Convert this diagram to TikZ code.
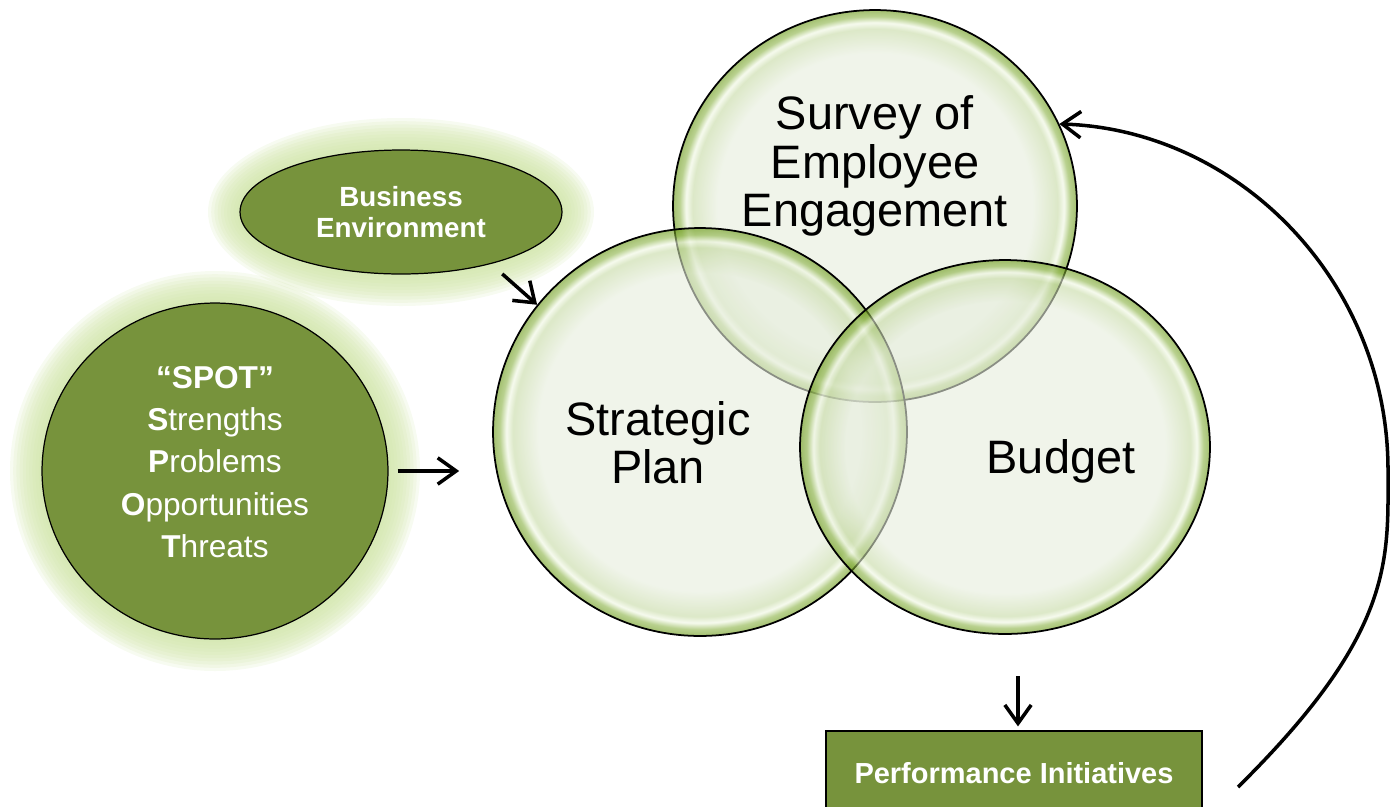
\documentclass[tikz,border=0pt]{standalone}
\usepackage{fontspec}
\setmainfont{Liberation Sans}
\usetikzlibrary{shapes.geometric,arrows.meta,calc}

\definecolor{olivegreen}{HTML}{77933C}
\definecolor{glowgreen}{HTML}{CFE4A6}
\definecolor{vennin}{HTML}{E6EDDC}
\definecolor{vennmid}{HTML}{C5D9A3}
\definecolor{vennhi}{HTML}{F0F7E3}
\definecolor{vennedge}{HTML}{8AB244}
\definecolor{vennrim}{HTML}{669611}

% edge of the node sits at 25bp
\pgfdeclareradialshading{vennshade}{\pgfpoint{0bp}{0bp}}{color(0bp)=(vennin); color(19.5bp)=(vennin); color(22.6bp)=(vennmid); color(23.4bp)=(vennhi); color(24.2bp)=(vennedge); color(25bp)=(vennrim); color(50bp)=(vennrim)}

\tikzset{
  venn/.style={ellipse, draw=black, line width=1pt, shading=vennshade, fill opacity=0.6, inner sep=0pt},
  venntext/.style={align=center, font=\fontsize{26.7}{27.5}\selectfont, inner sep=0pt},
  darkbox/.style={draw=black, line width=0.7pt, fill=olivegreen, text=white, align=center, inner sep=0pt},
  whitetext/.style={text=white, align=center, inner sep=0pt},
  arrowline/.style={-{Straight Barb[length=10.5pt,width=15pt]}, line width=2pt},
}

\begin{document}
\begin{tikzpicture}[x=0.02cm, y=-0.02cm]
    \useasboundingbox (0,0) rectangle (1395,806);
    \coordinate (spotc) at (215,471);
    \coordinate (bizc) at (401,212);
    % Soft glow behind the two dark ellipses
    \foreach \g in {1,...,10} {
        \fill[glowgreen, opacity=0.16] (spotc) ellipse [x radius={(173+3.2*\g)*0.02cm}, y radius={(168+3.2*\g)*0.02cm}];
        \fill[glowgreen, opacity=0.16] (bizc) ellipse [x radius={(161+3.2*\g)*0.02cm}, y radius={(62+3.2*\g)*0.02cm}];
    }
    \node[darkbox, ellipse, minimum width=6.92cm, minimum height=6.72cm] (spot) at (spotc) {};
    \node[whitetext, font=\fontsize{18}{24}\selectfont] (spottxt) at (215,462)
        {\textbf{“SPOT”}\\\textbf{S}trengths\\\textbf{P}roblems\\\textbf{O}pportunities\\\textbf{T}hreats};
    \node[darkbox, ellipse, minimum width=6.44cm, minimum height=2.48cm, font=\bfseries\fontsize{15.8}{17.6}\selectfont] (bizenv) at (bizc) {Business\\Environment};
    % The three overlapping circles
    \node[venn, minimum width=8.08cm, minimum height=7.84cm] (survey) at (875,206) {};
    \node[venn, minimum width=8.28cm, minimum height=8.16cm] (strat) at (700,432) {};
    \node[venn, minimum width=8.2cm, minimum height=7.48cm] (budget) at (1005,447) {};
    \node[venntext] (surveytxt) at (875,166) {Survey of\\Employee\\Engagement};
    \node[venntext] (strattxt) at (658,443) {Strategic\\Plan};
    \node[venntext] (budgettxt) at (1061,461) {Budget};
    \node[darkbox, minimum width=7.52cm, minimum height=1.68cm, font=\bfseries\fontsize{16.5}{18}\selectfont] (perf) at (1014,773) {Performance Initiatives};
    % Connectors
    \coordinate (budgetout) at (1018,676);
    \coordinate (loopstart) at (1238,787);
    \draw[arrowline, shorten <=0.18cm, shorten >=0.66cm] (spot.east) -- (spot.east -| strat.west);
    \draw[arrowline, shorten <=0.3cm] (bizenv.-30) -- (strat.142);
    \draw[arrowline, shorten >=0.08cm] (budgetout) -- (budgetout |- perf.north);
    \draw[arrowline] (loopstart) .. controls (1395,632) and (1388,560) .. (1388,470)
        .. controls (1388,283) and (1240,130) .. (survey.24);
\end{tikzpicture}
\end{document}
